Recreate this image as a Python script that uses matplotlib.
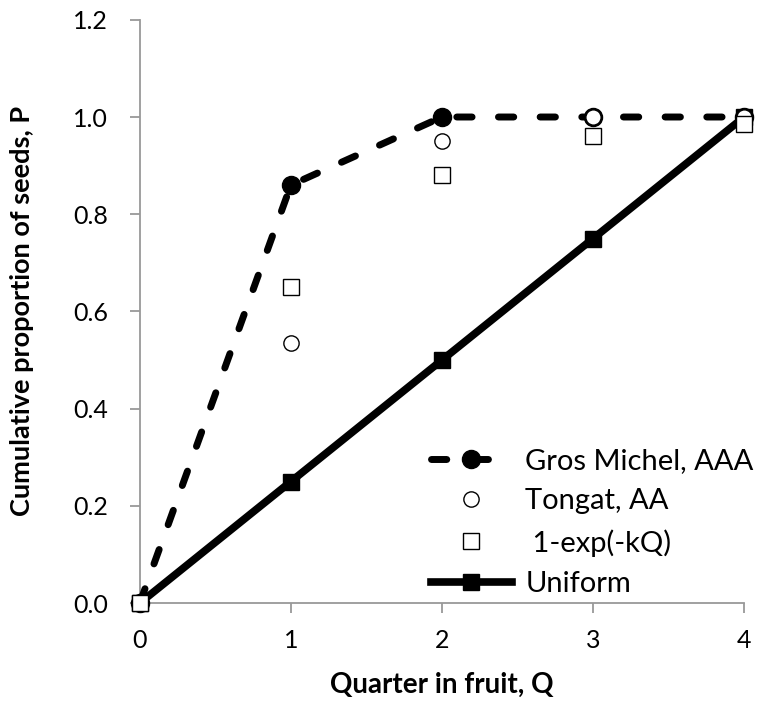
import numpy as np
import matplotlib
matplotlib.use("Agg")
import matplotlib.pyplot as plt

plt.rcParams['font.family'] = ['Lato', 'DejaVu Sans']

quarter = [0, 1, 2, 3, 4]
gros_michel = [0.0, 0.86, 1.0, 1.0, 1.0]
tongat = [0.0, 0.535, 0.95, 1.0, 1.0]
exp_fit = [0.0, 0.65, 0.88, 0.96, 0.985]
uniform = [0.0, 0.25, 0.5, 0.75, 1.0]

fig = plt.figure(figsize=(7.64, 7.07), dpi=100)
ax = fig.add_axes([0.183, 0.147, 0.791, 0.825])

ax.plot(quarter, gros_michel, color='black', lw=5, ls=(0, (2.2, 3.8)),
        dash_capstyle='round', marker='o', ms=13, label='Gros Michel, AAA', zorder=3)
ax.plot(quarter, tongat, ls='none', marker='o', ms=11, mfc='white', mec='black',
        mew=1.0, label='Tongat, AA', zorder=4)
ax.plot(quarter, exp_fit, ls='none', marker='s', ms=11, mfc='white', mec='black',
        mew=1.0, label=' 1-exp(-kQ)', zorder=5)
ax.plot(quarter, uniform, color='black', lw=5.5, marker='s', ms=12,
        label='Uniform', zorder=3)

ax.set_xlim(0, 4)
ax.set_ylim(0, 1.2)
ax.set_xticks(quarter)
ax.set_yticks(np.arange(0, 1.21, 0.2))
ax.set_yticklabels([f"{v:.1f}" for v in np.arange(0, 1.21, 0.2)])

for side in ['top', 'right']:
    ax.spines[side].set_visible(False)
for side in ['left', 'bottom']:
    ax.spines[side].set_color('#999999')
    ax.spines[side].set_linewidth(1.3)
ax.tick_params(axis='both', colors='#999999', labelcolor='black', labelsize=18,
               length=7, width=1.3, direction='out')
ax.tick_params(axis='x', pad=12)
ax.tick_params(axis='y', pad=16)

ax.set_xlabel('Quarter in fruit, Q', fontsize=20, fontweight='bold', labelpad=14)
ax.set_ylabel('Cumulative proportion of seeds, P', fontsize=19.5, fontweight='bold',
              labelpad=28)

for child in ax.get_children():
    if hasattr(child, 'set_clip_on'):
        child.set_clip_on(False)

ax.legend(loc='lower right', bbox_to_anchor=(1.045, -0.02), frameon=False,
          fontsize=21, handlelength=2.8, labelspacing=0.5, handletextpad=0.45,
          borderaxespad=0.2)

fig.savefig('out.png', dpi=100)
